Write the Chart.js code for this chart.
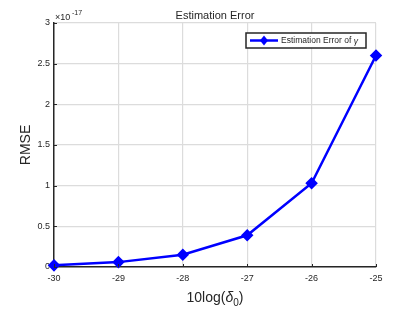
<!DOCTYPE html>
<html>
<head>
<meta charset="utf-8">
<script src="https://cdn.jsdelivr.net/npm/chart.js@4/dist/chart.umd.min.js"></script>
<style>
  html, body { margin: 0; padding: 0; background: #fff; }
  #wrap { width: 415px; height: 312px; }
</style>
</head>
<body>
<div id="wrap"><canvas id="c"></canvas></div>
<script>
// x positions 10log(delta_0)
const deltaDb = [-30, -29, -28, -27, -26, -25];
// RMSE values, in units of 1e-17
const rmseGamma = [0.02, 0.06, 0.15, 0.39, 1.03, 2.6];
const xTicks = [-30, -29, -28, -27, -26, -25];
const yTicks = [0, 0.5, 1, 1.5, 2, 2.5, 3];

const FONT = "'Liberation Sans', Arial, Helvetica, sans-serif";
const AX = "#262626";

// extra text and inward ticks, MATLAB style
const decorations = {
  id: "decorations",
  afterDraw(chart) {
    const ctx = chart.ctx;
    const { x, y } = chart.scales;
    const area = chart.chartArea;
    ctx.save();
    ctx.strokeStyle = AX;
    ctx.lineWidth = 1;
    xTicks.forEach(v => {
      const px = Math.round(x.getPixelForValue(v)) + 0.5;
      ctx.beginPath();
      ctx.moveTo(px, area.bottom);
      ctx.lineTo(px, area.bottom - 3);
      ctx.stroke();
    });
    yTicks.forEach(v => {
      const py = Math.round(y.getPixelForValue(v)) + 0.5;
      ctx.beginPath();
      ctx.moveTo(area.left, py);
      ctx.lineTo(area.left + 3, py);
      ctx.stroke();
    });

    ctx.fillStyle = AX;
    // title
    ctx.font = "11px " + FONT;
    ctx.textAlign = "center";
    ctx.textBaseline = "alphabetic";
    ctx.fillText("Estimation Error", (area.left + area.right) / 2, 19);

    // exponent
    ctx.textAlign = "left";
    ctx.font = "9px " + FONT;
    ctx.fillText("\u00d710", area.left + 1, 20);
    ctx.font = "7px " + FONT;
    ctx.fillText("-17", area.left + 18, 15);

    // y title
    ctx.save();
    ctx.translate(30, (area.top + area.bottom) / 2);
    ctx.rotate(-Math.PI / 2);
    ctx.textAlign = "center";
    ctx.font = "14px " + FONT;
    ctx.fillText("RMSE", 0, 0);
    ctx.restore();

    // x title with subscript
    const cx = (area.left + area.right) / 2;
    const p1 = "10log(";
    ctx.font = "italic 14px " + FONT;
    const wd = ctx.measureText("\u03b4").width;
    ctx.font = "10px " + FONT;
    const w0 = ctx.measureText("0").width;
    ctx.font = "14px " + FONT;
    const w1 = ctx.measureText(p1).width;
    const w2 = ctx.measureText(")").width;
    let sx = cx - (w1 + wd + w0 + w2) / 2;
    const by = 302;
    ctx.textAlign = "left";
    ctx.fillText(p1, sx, by); sx += w1;
    ctx.font = "italic 14px " + FONT;
    ctx.fillText("\u03b4", sx, by); sx += wd;
    ctx.font = "10px " + FONT;
    ctx.fillText("0", sx, by + 4); sx += w0;
    ctx.font = "14px " + FONT;
    ctx.fillText(")", sx, by);

    // legend
    const lx = 246, ly = 33, lw = 120, lh = 15;
    ctx.fillStyle = "#fff";
    ctx.fillRect(lx, ly, lw, lh);
    ctx.strokeStyle = AX;
    ctx.lineWidth = 1.5;
    ctx.strokeRect(lx, ly, lw, lh);
    const my = ly + lh / 2;
    ctx.strokeStyle = "#0000ff";
    ctx.lineWidth = 2.5;
    ctx.beginPath();
    ctx.moveTo(lx + 4, my);
    ctx.lineTo(lx + 32, my);
    ctx.stroke();
    ctx.fillStyle = "#0000ff";
    ctx.beginPath();
    ctx.moveTo(lx + 18, my - 5);
    ctx.lineTo(lx + 22, my);
    ctx.lineTo(lx + 18, my + 5);
    ctx.lineTo(lx + 14, my);
    ctx.closePath();
    ctx.fill();
    ctx.fillStyle = AX;
    ctx.font = "8.5px " + FONT;
    ctx.textBaseline = "middle";
    ctx.fillText("Estimation Error of ", lx + 35, my);
    const wt = ctx.measureText("Estimation Error of ").width;
    ctx.font = "italic 8.5px " + FONT;
    ctx.fillText("\u03b3", lx + 35 + wt, my + 1);
    ctx.restore();
  }
};

new Chart(document.getElementById("c"), {
  type: "line",
  data: {
    datasets: [{
      label: "Estimation Error of \u03b3",
      data: deltaDb.map((d, i) => ({ x: d, y: rmseGamma[i] })),
      borderColor: "#0000ff",
      backgroundColor: "#0000ff",
      borderWidth: 2.5,
      pointStyle: "rectRot",
      pointRadius: 4.5,
      pointHoverRadius: 4.5,
      tension: 0,
      clip: false
    }]
  },
  options: {
    responsive: true,
    maintainAspectRatio: false,
    animation: false,
    layout: { padding: { top: 23, right: 39, left: 0, bottom: 0 } },
    plugins: {
      legend: { display: false },
      title: { display: false },
      tooltip: { enabled: false }
    },
    scales: {
      x: {
        type: "linear",
        min: -30,
        max: -25,
        afterBuildTicks: s => { s.ticks = xTicks.map(v => ({ value: v })); },
        afterFit: s => { s.height = 45; },
        grid: { color: "#dcdcdc", lineWidth: 1.2, drawTicks: false },
        border: { color: AX, width: 1.5 },
        ticks: { color: AX, font: { family: FONT, size: 9 }, padding: 6, maxRotation: 0,
                 callback: v => String(v) }
      },
      y: {
        type: "linear",
        min: 0,
        max: 3,
        afterBuildTicks: s => { s.ticks = yTicks.map(v => ({ value: v })); },
        afterFit: s => { s.width = 54; },
        grid: { color: "#dcdcdc", lineWidth: 1.2, drawTicks: false },
        border: { color: AX, width: 1.5 },
        ticks: { color: AX, font: { family: FONT, size: 9 }, padding: 4,
                 callback: v => String(v) }
      }
    }
  },
  plugins: [decorations]
});
</script>
</body>
</html>
